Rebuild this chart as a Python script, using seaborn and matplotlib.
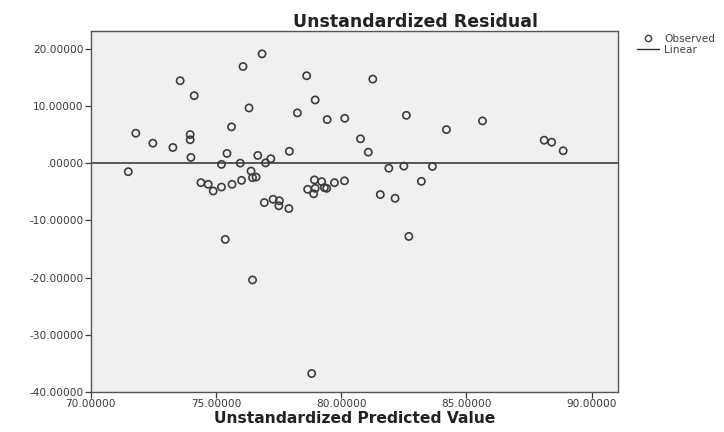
import numpy as np
import pandas as pd
import matplotlib
matplotlib.use("Agg")
import matplotlib.pyplot as plt
from matplotlib.lines import Line2D
from matplotlib.ticker import FuncFormatter
import seaborn as sns


# ------------------------------------------------------------
# data
# ------------------------------------------------------------
predicted = [
    71.50, 71.80, 72.48, 73.28, 73.57, 73.97, 73.97, 74.00, 74.13, 74.40,
    74.69, 74.89, 75.22, 75.22, 75.44, 75.62, 75.64, 75.97, 76.02, 76.08,
    75.37, 76.32, 76.40, 76.46, 76.60, 76.46, 76.67, 76.84, 76.93, 76.98,
    77.19, 77.28, 77.53, 77.51, 77.91, 77.93, 78.25, 78.62, 78.66, 78.93,
    78.96, 78.90, 78.96, 79.22, 79.33, 79.42, 79.44, 79.73, 80.13, 80.14,
    78.82, 80.77, 81.08, 81.26, 81.56, 81.90, 82.15, 82.50, 82.60, 82.70,
    83.20, 83.64, 84.20, 85.64, 88.10, 88.40, 88.86,
]
residual = [
    -1.45, 5.29, 3.54, 2.79, 14.49, 5.06, 4.14, 1.05, 11.87, -3.37,
    -3.66, -4.83, -4.14, -0.17, 1.75, 6.40, -3.66, 0.05, -2.97, 16.98,
    -13.32, 9.72, -1.34, -2.50, -2.39, -20.42, 1.40, 19.20, -6.86, 0.09,
    0.82, -6.28, -6.54, -7.42, -7.91, 2.13, 8.85, 15.36, -4.54, -2.88,
    11.12, -5.32, -4.36, -3.19, -4.24, -4.36, 7.68, -3.37, -3.05, 7.91,
    -36.82, 4.31, 1.97, 14.78, -5.46, -0.84, -6.11, -0.47, 8.43, -12.79,
    -3.14, -0.52, 5.93, 7.45, 4.07, 3.72, 2.22,
]
x_ticks = [70, 75, 80, 85, 90]
y_ticks = [20, 10, 0, -10, -20, -30, -40]
fit_level = 0.0

df = pd.DataFrame({"pred": predicted, "resid": residual})

sns.set_theme(style="white")
plt.rcParams["font.family"] = ["DejaVu Sans"]


def spss_fmt(v, pos=None):
    # SPSS style: ".00000" for zero, five decimals
    s = "%.5f" % v
    if s.startswith("0."):
        s = s[1:]
    elif s.startswith("-0."):
        s = "-" + s[2:]
    return s


fig = plt.figure(figsize=(7.24, 4.32), dpi=100)
ax = fig.add_axes([0.1253, 0.0933, 0.7287, 0.8349])
ax.set_facecolor("#f0f0f0")

sns.scatterplot(data=df, x="pred", y="resid", ax=ax, marker="o", s=27,
                fc="none", ec="#3c3c3c", linewidth=1.2, zorder=3)
ax.axhline(fit_level, color="#2b2b2b", lw=1.1, zorder=2)

ax.set_xlim(70, 91.06)
ax.set_ylim(-40, 23.2)
ax.set_xticks(x_ticks)
ax.set_yticks(y_ticks)
ax.xaxis.set_major_formatter(FuncFormatter(spss_fmt))
ax.yaxis.set_major_formatter(FuncFormatter(spss_fmt))
ax.tick_params(axis="both", direction="out", length=4, width=0.9,
               labelsize=7.6, colors="#3a3a3a", pad=1, bottom=True, left=True)

for sp in ax.spines.values():
    sp.set_color("#555555")
    sp.set_linewidth(1.0)

# title sits a bit right of the plot centre in the original
ax.set_title("Unstandardized Residual", fontsize=12.5, fontweight="bold",
             color="#222222", pad=3)
ax.title.set_x(0.616)
ax.set_xlabel("Unstandardized Predicted Value", fontsize=11.2, fontweight="bold",
              color="#222222", labelpad=2)
ax.set_ylabel("")

handles = [
    Line2D([], [], ls="none", marker="o", mfc="none", mec="#3c3c3c", ms=4.5, mew=1),
    Line2D([], [], color="#2b2b2b", lw=1),
]
fig.legend(handles, ["Observed", "Linear"], loc="upper left",
           bbox_to_anchor=(0.874, 0.932), frameon=False, fontsize=7.6,
           handlelength=2.1, handletextpad=0.5, labelspacing=0.15,
           labelcolor="#444444", borderaxespad=0)

fig.savefig("out.png", dpi=100)
